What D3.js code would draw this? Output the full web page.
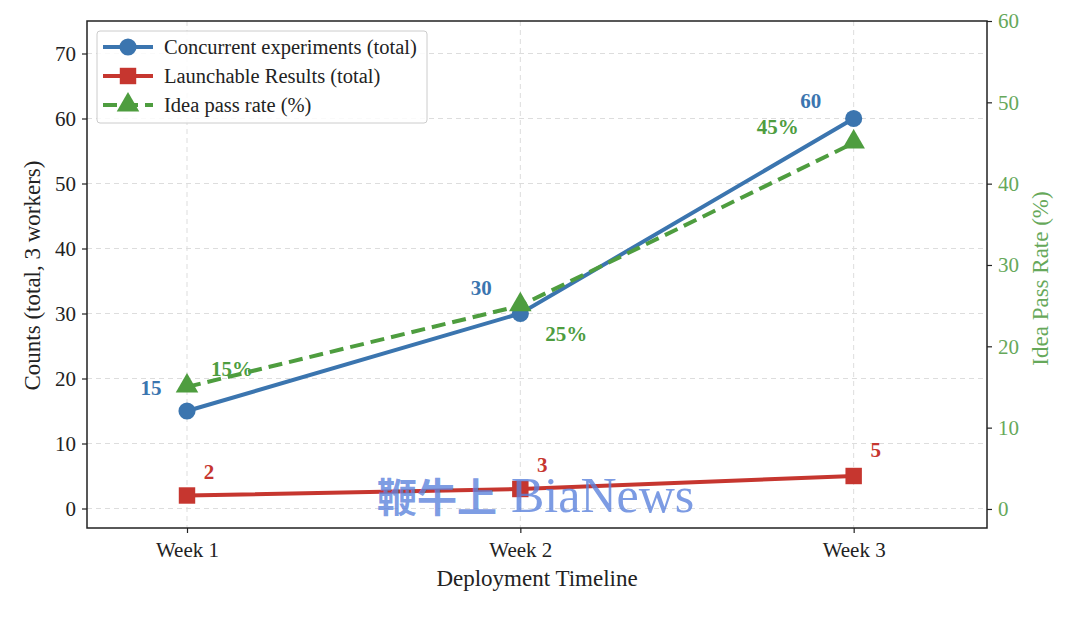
<!DOCTYPE html>
<html><head><meta charset="utf-8">
<script src="https://cdn.jsdelivr.net/npm/d3@7/dist/d3.min.js"></script>
<style>body{margin:0;background:#fff;} svg{display:block;font-family:"Liberation Serif","Times New Roman",serif;}</style>
</head><body>
<script>
const weeks = ["Week 1", "Week 2", "Week 3"];
const concurrent = [15, 30, 60];
const launchable = [2, 3, 5];
const passRate = [15, 25, 45];
const leftTicks = [0, 10, 20, 30, 40, 50, 60, 70];
const rightTicks = [0, 10, 20, 30, 40, 50, 60];
const seriesNames = ["Concurrent experiments (total)", "Launchable Results (total)", "Idea pass rate (%)"];

const W = 1076, H = 618;
const m = {l: 87, r: 1076 - 987, t: 21, b: 618 - 528};
const blue = "#3B75AF", red = "#C6362F", green = "#4E9D3F", greenTxt = "#66A85A";

const svg = d3.select("body").append("svg").attr("width", W).attr("height", H);
const x = d3.scaleLinear().domain([-0.3, 2.4]).range([m.l, W - m.r]);
const y = d3.scaleLinear().domain([-3, 75]).range([H - m.b, m.t]);
const y2 = d3.scaleLinear().domain([-2.34, 60]).range([H - m.b, m.t]);

// grid
const g = svg.append("g");
g.selectAll(".gy").data(leftTicks).join("line")
  .attr("x1", m.l).attr("x2", W - m.r).attr("y1", d => y(d)).attr("y2", d => y(d))
  .attr("stroke", "#ddd").attr("stroke-dasharray", "5,4").attr("stroke-width", 1);
g.selectAll(".gx").data(weeks).join("line")
  .attr("x1", (d, i) => x(i)).attr("x2", (d, i) => x(i)).attr("y1", m.t).attr("y2", H - m.b)
  .attr("stroke", "#ddd").attr("stroke-dasharray", "5,4").attr("stroke-width", 1);

// axes
const xAxis = d3.axisBottom(x).tickValues([0, 1, 2]).tickFormat(i => weeks[i]).tickSize(5).tickPadding(9);
const yAxis = d3.axisLeft(y).tickValues(leftTicks).tickSize(5).tickPadding(6);
const y2Axis = d3.axisRight(y2).tickValues(rightTicks).tickSize(5).tickPadding(6);
function style(sel, col) {
  sel.select(".domain").remove();
  sel.selectAll("line").attr("stroke", "#222").attr("stroke-width", 1.2);
  sel.selectAll("text").attr("fill", col).style("font-size", "21px").style("font-family", "Liberation Serif");
}
svg.append("g").attr("transform", `translate(0,${H - m.b})`).call(xAxis).call(s => style(s, "#222"));
svg.append("g").attr("transform", `translate(${m.l},0)`).call(yAxis).call(s => style(s, "#222"));
svg.append("g").attr("transform", `translate(${W - m.r},0)`).call(y2Axis).call(s => style(s, greenTxt));
svg.append("rect").attr("x", m.l).attr("y", m.t).attr("width", W - m.l - m.r).attr("height", H - m.t - m.b)
  .attr("fill", "none").attr("stroke", "#222").attr("stroke-width", 1.5);

// axis titles
svg.append("text").attr("x", (m.l + W - m.r) / 2).attr("y", 586).attr("text-anchor", "middle")
  .style("font-size", "23px").attr("fill", "#222").text("Deployment Timeline");
svg.append("text").attr("transform", `translate(40,${(m.t + H - m.b) / 2 + 1}) rotate(-90)`).attr("text-anchor", "middle")
  .style("font-size", "23px").attr("fill", "#222").text("Counts (total, 3 workers)");
svg.append("text").attr("transform", `translate(1048,${(m.t + H - m.b) / 2 + 4}) rotate(-90)`).attr("text-anchor", "middle")
  .style("font-size", "23px").attr("fill", greenTxt).text("Idea Pass Rate (%)");

// lines
const lineL = d3.line().x((d, i) => x(i)).y(d => y(d));
const lineR = d3.line().x((d, i) => x(i)).y(d => y2(d));
svg.append("path").attr("d", lineL(concurrent)).attr("fill", "none").attr("stroke", blue).attr("stroke-width", 4);
svg.append("path").attr("d", lineL(launchable)).attr("fill", "none").attr("stroke", red).attr("stroke-width", 4);
svg.append("path").attr("d", lineR(passRate)).attr("fill", "none").attr("stroke", green).attr("stroke-width", 4).attr("stroke-dasharray", "14,7");

const sym = (t, s) => d3.symbol().type(t).size(s)();
svg.selectAll(".mc").data(concurrent).join("path").attr("d", sym(d3.symbolCircle, 230))
  .attr("transform", (d, i) => `translate(${x(i)},${y(d)})`).attr("fill", blue);
svg.selectAll(".ml").data(launchable).join("path").attr("d", sym(d3.symbolSquare, 270))
  .attr("transform", (d, i) => `translate(${x(i)},${y(d)})`).attr("fill", red);
svg.selectAll(".mp").data(passRate).join("path").attr("d", sym(d3.symbolTriangle, 220))
  .attr("transform", (d, i) => `translate(${x(i)},${y2(d) - 1})`).attr("fill", green);

// annotations
const lab = (txt, px, py, col) => svg.append("text").attr("x", px).attr("y", py).attr("text-anchor", "middle")
  .style("font-size", "21px").style("font-weight", "bold").attr("fill", col).text(txt);
const cOff = [[-36, -16], [-39, -19], [-43, -11]];
concurrent.forEach((d, i) => lab(d, x(i) + cOff[i][0], y(d) + cOff[i][1], blue));
const pOff = [[45, -11], [46, 35], [-76, -9]];
passRate.forEach((d, i) => lab(d + "%", x(i) + pOff[i][0], y2(d) + pOff[i][1], green));
const lOff = [[22, -17], [22, -17], [22, -19]];
launchable.forEach((d, i) => lab(d, x(i) + lOff[i][0], y(d) + lOff[i][1], red));

// legend
const lg = svg.append("g").attr("transform", "translate(97,31)");
lg.append("rect").attr("width", 330).attr("height", 92).attr("rx", 3).attr("fill", "rgba(255,255,255,0.85)")
  .attr("stroke", "#ccc").attr("stroke-width", 1);
const cols = [blue, red, green];
const syms = [[d3.symbolCircle, 230], [d3.symbolSquare, 270], [d3.symbolTriangle, 220]];
seriesNames.forEach((n, i) => {
  const yy = 16 + i * 29;
  lg.append("line").attr("x1", 6).attr("x2", 56).attr("y1", yy).attr("y2", yy).attr("stroke", cols[i]).attr("stroke-width", 4)
    .attr("stroke-dasharray", i === 2 ? "14,7" : null);
  lg.append("path").attr("d", sym(syms[i][0], syms[i][1])).attr("transform", `translate(31,${yy})`).attr("fill", cols[i]);
  lg.append("text").attr("x", 67).attr("y", yy + 7).style("font-size", "20.5px").attr("fill", "#222").text(n);
});

// watermark
const wm = svg.append("text").attr("x", 377).attr("y", 512).attr("fill", "#5b82dc").attr("fill-opacity", 0.8);
wm.append("tspan").style("font-family", "'Noto Sans CJK SC', sans-serif").style("font-size", "40px").style("font-weight", "bold").text("鞭牛上");
wm.append("tspan").attr("dx", 14).style("font-family", "Liberation Serif").style("font-size", "50px").text("BiaNews");
</script>
</body></html>
